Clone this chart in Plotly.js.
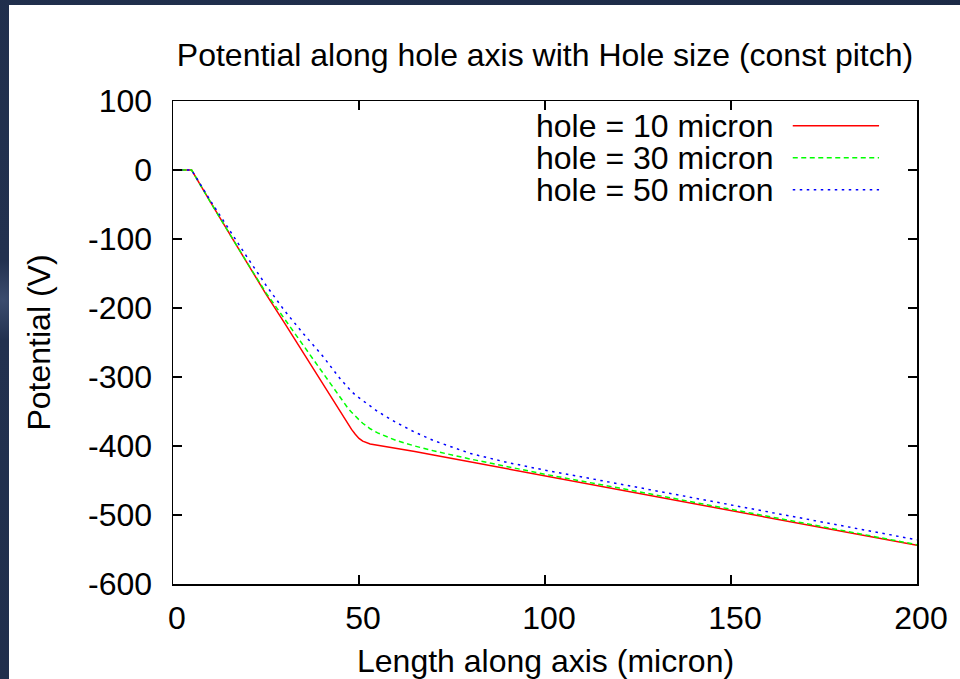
<!DOCTYPE html>
<html>
<head>
<meta charset="utf-8">
<script src="https://cdn.plot.ly/plotly-3.0.1.min.js"></script>
<style>
  html, body { margin: 0; padding: 0; width: 960px; height: 679px; overflow: hidden;
    background: radial-gradient(circle at 3px 300px, #3b4c6e 0, #22314f 40px, #1c2a46 100%); }
  #chart { position: absolute; left: 9px; top: 5px; width: 951px; height: 674px; background: #ffffff; }
</style>
</head>
<body>
<div id="chart"></div>
<script>
// Length along axis (micron)
const lengthX = [0, 5, 10, 15, 20, 25, 30, 35, 40, 45, 46, 47, 48, 49, 50, 51, 52, 53, 55, 60, 65, 70, 80, 90, 100, 120, 150, 200];
// Potential (V) for each hole size
const hole10 = [0, 0, -46, -91, -136, -180, -222, -265, -308, -350, -359, -368, -376, -383, -389, -393, -395.5, -397, -399, -403, -408, -413, -423, -433, -443, -463, -494, -544];
const hole30 = [0, 0, -46, -91, -135, -178, -216, -255, -292, -331, -338, -345, -351, -357, -362, -367, -371, -375, -381, -392, -400, -407, -419, -430, -441, -461, -492, -543];
const hole50 = [0, 0, -44, -86, -127, -167, -204, -237, -268, -303, -309.5, -315.5, -321, -326, -330, -334.5, -339, -343, -350, -366, -380, -392, -411, -424, -435, -455, -485, -536];

const seriesNames = ['hole = 10 micron', 'hole = 30 micron', 'hole = 50 micron'];
const seriesValues = [hole10, hole30, hole50];
const seriesColors = ['rgb(255,0,0)', 'rgb(0,255,0)', 'rgb(0,0,255)'];
const seriesDash = ['solid', '5px,3.5px', '2.5px,4.5px'];

const xTicks = [0, 50, 100, 150, 200];
const yTicks = [-600, -500, -400, -300, -200, -100, 0, 100];
const xTitle = 'Length along axis (micron)';

const FONT = 'Liberation Sans, Arial, Helvetica, sans-serif';
const FS = 32;

const traces = seriesValues.map((vals, i) => ({
  x: lengthX, y: vals, type: 'scatter', mode: 'lines', name: seriesNames[i],
  line: { color: seriesColors[i], width: 1.5, dash: seriesDash[i] },
  showlegend: false, hoverinfo: 'skip'
}));

// Legend drawn as text on the left and line sample on the right (gnuplot style)
const legTop = 0.949, legStep = 0.0664;
const annotations = [];
const shapes = [];
seriesNames.forEach((nm, i) => {
  const yy = legTop - i * legStep;
  annotations.push({ xref: 'paper', yref: 'paper', x: 0.808, y: yy, xanchor: 'right', yanchor: 'middle',
    text: nm, showarrow: false, borderpad: 0, height: 30, valign: 'middle',
    font: { family: FONT, size: FS, color: '#000' } });
  shapes.push({ type: 'line', xref: 'paper', yref: 'paper', x0: 0.833, x1: 0.949, y0: yy, y1: yy,
    line: { color: seriesColors[i], width: 1.5, dash: seriesDash[i] } });
});
// x-axis title, placed low near the bottom edge as in the original slide
annotations.push({ xref: 'paper', yref: 'paper', x: 0.5, y: -0.159, xanchor: 'center', yanchor: 'middle',
  text: xTitle, showarrow: false, borderpad: 0, font: { family: FONT, size: FS, color: '#000' } });

const layout = {
  width: 951, height: 674,
  margin: { l: 164, r: 43, t: 96, b: 95 },
  paper_bgcolor: '#ffffff', plot_bgcolor: '#ffffff',
  font: { family: FONT, size: FS, color: '#000' },
  title: { text: 'Potential along hole axis with Hole size (const pitch)', xref: 'paper', x: 0.5, xanchor: 'center',
    yref: 'container', y: 1 - 50 / 674, yanchor: 'middle', font: { family: FONT, size: FS, color: '#000' } },
  xaxis: {
    range: [0, 200], tickvals: xTicks, ticktext: xTicks.map(String),
    ticks: 'inside', ticklen: 9, tickwidth: 1.3, tickcolor: '#000',
    showline: true, linecolor: '#000', linewidth: 1.5, mirror: 'ticks',
    showgrid: false, zeroline: false, ticklabelstandoff: 5, ticklabelshift: 4,
    tickfont: { family: FONT, size: FS, color: '#000' }
  },
  yaxis: {
    range: [-600, 100], tickvals: yTicks, ticktext: yTicks.map(String),
    ticks: 'inside', ticklen: 9, tickwidth: 1.3, tickcolor: '#000',
    showline: true, linecolor: '#000', linewidth: 1.5, mirror: 'ticks',
    showgrid: false, zeroline: false, ticklabelstandoff: 13,
    tickfont: { family: FONT, size: FS, color: '#000' },
    title: { text: 'Potential (V)', standoff: 28, font: { family: FONT, size: FS, color: '#000' } }
  },
  annotations: annotations,
  shapes: shapes,
  showlegend: false
};

Plotly.newPlot('chart', traces, layout, { displayModeBar: false, staticPlot: true });
</script>
</body>
</html>
